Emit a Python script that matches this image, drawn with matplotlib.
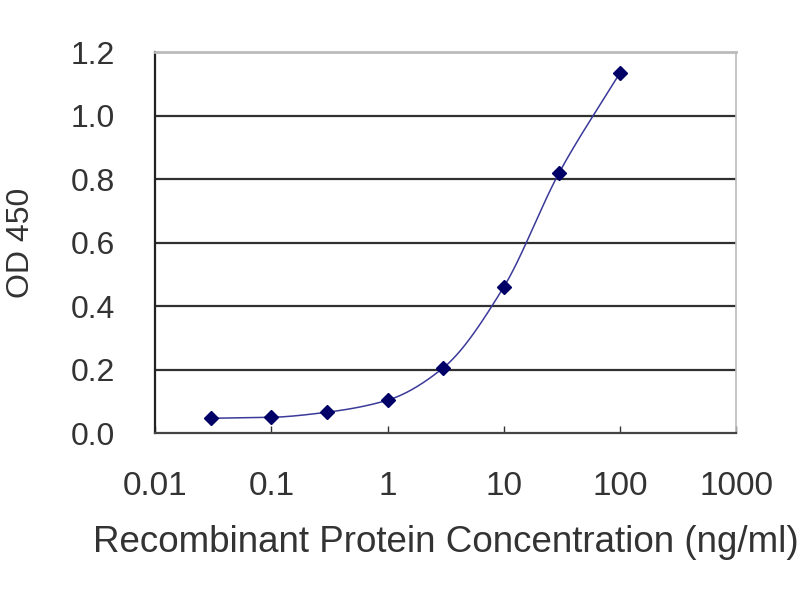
import numpy as np
import matplotlib
matplotlib.use("Agg")
import matplotlib.pyplot as plt

conc = [0.03, 0.1, 0.3, 1, 3, 10, 30, 100]
od450 = [0.047, 0.050, 0.066, 0.104, 0.205, 0.46, 0.82, 1.134]
xticks = [0.01, 0.1, 1, 10, 100, 1000]
xtick_labels = ["0.01", "0.1", "1", "10", "100", "1000"]
yticks = [0.0, 0.2, 0.4, 0.6, 0.8, 1.0, 1.2]
ytick_labels = ["0.0", "0.2", "0.4", "0.6", "0.8", "1.0", "1.2"]


def pchip(x, y, xn):
    x = np.asarray(x, float); y = np.asarray(y, float)
    h = np.diff(x); d = np.diff(y) / h
    m = np.zeros_like(y)
    for k in range(1, len(x) - 1):
        if d[k - 1] * d[k] > 0:
            w1 = 2 * h[k] + h[k - 1]; w2 = h[k] + 2 * h[k - 1]
            m[k] = (w1 + w2) / (w1 / d[k - 1] + w2 / d[k])
    m[0] = d[0]; m[-1] = d[-1]
    idx = np.clip(np.searchsorted(x, xn) - 1, 0, len(x) - 2)
    t = (xn - x[idx]) / h[idx]
    h00 = 2 * t**3 - 3 * t**2 + 1; h10 = t**3 - 2 * t**2 + t
    h01 = -2 * t**3 + 3 * t**2; h11 = t**3 - t**2
    return h00 * y[idx] + h10 * h[idx] * m[idx] + h01 * y[idx + 1] + h11 * h[idx] * m[idx + 1]


plt.rcParams['font.family'] = ['Liberation Sans', 'DejaVu Sans']
TXT = '#333333'
fig = plt.figure(figsize=(8, 6), dpi=100)
ax = fig.add_axes([0.194, 0.278, 0.726, 0.635])

lx = np.log10(conc)
xs = np.linspace(lx[0], lx[-1], 300)
ys = pchip(lx, od450, xs)
ax.plot(10**xs, ys, color='#3a3a9a', lw=1.1, zorder=3)
ax.plot(conc, od450, linestyle='none', marker='D', markersize=7.5,
        color='#000066', zorder=4)

ax.set_xscale('log')
ax.set_xlim(0.01, 1000)
ax.set_ylim(0, 1.2)
ax.set_xticks(xticks)
ax.set_xticklabels(xtick_labels)
ax.set_yticks(yticks)
ax.set_yticklabels(ytick_labels)
ax.minorticks_off()
ax.tick_params(axis='x', direction='in', length=5, width=1, colors='#333333',
               labelsize=24, pad=27, labelcolor=TXT)
ax.tick_params(axis='y', length=0, labelsize=23, pad=29, labelcolor=TXT)

for y in yticks[1:-1]:
    ax.axhline(y, color='#303030', lw=1.6, zorder=1)

ax.spines['left'].set_color('#222222'); ax.spines['left'].set_linewidth(1.6)
ax.spines['bottom'].set_color('#444444'); ax.spines['bottom'].set_linewidth(1.6)
ax.spines['top'].set_color('#bbbbbb'); ax.spines['top'].set_linewidth(2)
ax.spines['right'].set_color('#bbbbbb'); ax.spines['right'].set_linewidth(1.2)

ax.set_xlabel('Recombinant Protein Concentration (ng/ml)', fontsize=26.5,
              color=TXT, labelpad=17)
ax.set_ylabel('OD 450', fontsize=23, color=TXT, labelpad=25)

fig.savefig('out.png', dpi=100, facecolor='white')
